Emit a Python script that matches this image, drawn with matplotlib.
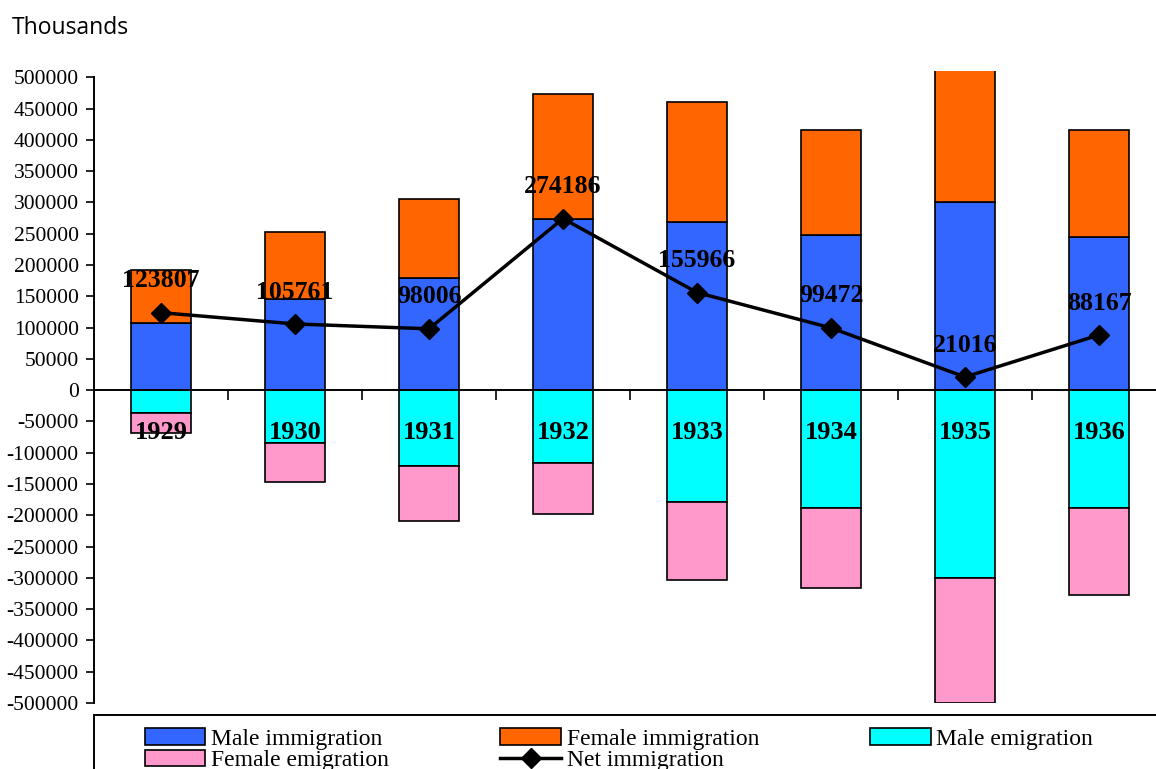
import matplotlib.pyplot as plt
from matplotlib.patches import Patch, Rectangle
from matplotlib.lines import Line2D
import numpy as np

years = ['1929', '1930', '1931', '1932', '1933', '1934', '1935', '1936']
male_imm = [107500, 145400, 178900, 273200, 268400, 247600, 300300, 244400]
female_imm = [84200, 107000, 126200, 199600, 191700, 167700, 220700, 170900]
male_emig = [36700, 84700, 121400, 116600, 178900, 188500, 300300, 188500]
female_emig = [31200, 62000, 87700, 82000, 125200, 127300, 199700, 139100]
net_imm = [123807, 105761, 98006, 274186, 155966, 99472, 21016, 88167]

c_male_imm = '#3366FF'
c_female_imm = '#FF6600'
c_male_emig = '#00FFFF'
c_female_emig = '#FF99CC'

serif = 'Liberation Serif'
W, H = 1156, 769

fig = plt.figure(figsize=(W / 100, H / 100), dpi=100)
ax = fig.add_axes([94 / W, 1 - 703 / H, 1072 / W, 632 / H])

x = np.arange(len(years))
w = 0.455
neg_male = -np.array(male_emig)
neg_female = -np.array(female_emig)

ax.bar(x, male_imm, w, color=c_male_imm, edgecolor='black', linewidth=1.2)
ax.bar(x, female_imm, w, bottom=male_imm, color=c_female_imm, edgecolor='black', linewidth=1.2)
ax.bar(x, neg_male, w, color=c_male_emig, edgecolor='black', linewidth=1.2)
ax.bar(x, neg_female, w, bottom=neg_male, color=c_female_emig, edgecolor='black', linewidth=1.2)

ax.plot(x, net_imm, color='black', linewidth=2.5, marker='D', markersize=10, zorder=5)

for i, v in enumerate(net_imm):
    ax.annotate(str(v), (x[i], v), xytext=(0, 23), textcoords='offset points',
                ha='center', va='center', fontsize=18.5, fontweight='bold',
                family=serif, zorder=6)

for i, yr in enumerate(years):
    ax.text(x[i], -67000, yr, ha='center', va='center', fontsize=19,
            fontweight='bold', family=serif, zorder=6)

ax.set_xlim(-0.5, 7.5)
ax.set_ylim(-500000, 510000)
ax.set_yticks(np.arange(-500000, 500001, 50000))
ax.yaxis.set_major_formatter(plt.FuncFormatter(lambda v, p: f'{int(v)}'))
for lbl in ax.get_yticklabels():
    lbl.set_family(serif)
    lbl.set_fontsize(15.5)
ax.tick_params(axis='y', direction='out', length=6, width=1.2, pad=5)

ax.set_xticks(np.arange(0.5, 7.5, 1))
ax.set_xticklabels([])
ax.tick_params(axis='x', direction='out', length=7, width=1.2)

ax.spines['top'].set_visible(False)
ax.spines['right'].set_visible(False)
ax.spines['bottom'].set_position(('data', 0))
ax.spines['bottom'].set_linewidth(1.4)
ax.spines['left'].set_linewidth(1.4)
ax.spines['left'].set_bounds(-500000, 500000)

fig.text(12 / W, 1 - 28 / H, 'Thousands', family='Open Sans', fontsize=16.5,
         ha='left', va='center')

# legend frame runs off the right and bottom edges
fig.patches.append(Rectangle((94 / W, -0.05), 1.0, 0.05 + (1 - 715 / H),
                             transform=fig.transFigure, facecolor='white',
                             edgecolor='black', linewidth=1.4, zorder=1))

handles = [
    Patch(facecolor=c_male_imm, edgecolor='black', linewidth=1.2, label='Male immigration'),
    Patch(facecolor=c_female_emig, edgecolor='black', linewidth=1.2, label='Female emigration'),
    Patch(facecolor=c_female_imm, edgecolor='black', linewidth=1.2, label='Female immigration'),
    Line2D([], [], color='black', linewidth=2.5, marker='D', markersize=10, label='Net immigration'),
    Patch(facecolor=c_male_emig, edgecolor='black', linewidth=1.2, label='Male emigration'),
]
leg = fig.legend(handles=handles, ncol=3, loc='upper left',
                 bbox_to_anchor=(145 / W, 1 - 728 / H),
                 prop={'family': serif, 'size': 17}, frameon=False,
                 handlelength=2.55, handleheight=0.7, handletextpad=0.25,
                 labelspacing=0.0, borderpad=0, borderaxespad=0,
                 columnspacing=4.72)
leg.set_zorder(2)

fig.savefig('out.png', dpi=100)
